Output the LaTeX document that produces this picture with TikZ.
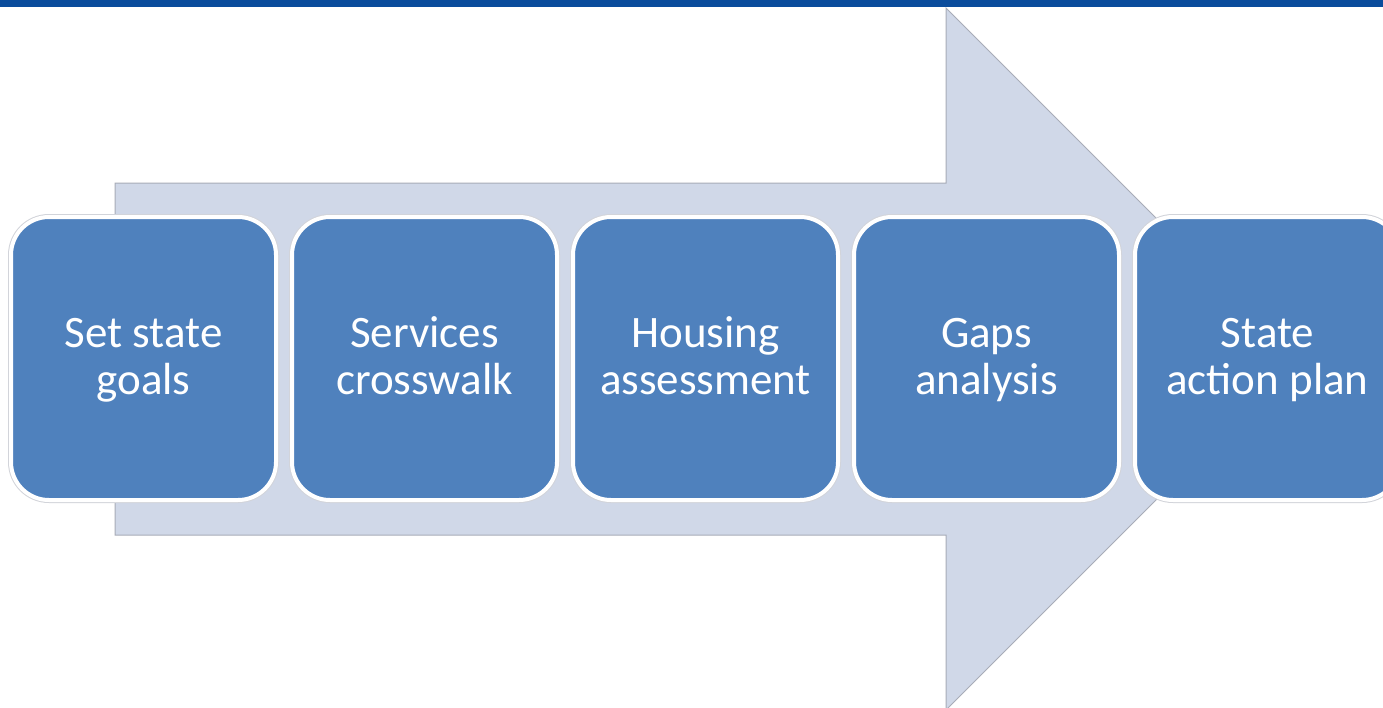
\documentclass[tikz,border=0pt]{standalone}
\usepackage{fontspec}
\setmainfont{Carlito}
\definecolor{boxblue}{RGB}{79,129,189}
\definecolor{arrowfill}{RGB}{208,216,232}
\definecolor{arrowline}{RGB}{168,172,184}
\definecolor{topbar}{RGB}{10,76,156}
\definecolor{boxhalo}{RGB}{210,212,218}
\newcommand{\mylinestrut}{\rule[-10pt]{0pt}{44pt}}
\begin{document}
\begin{tikzpicture}[x=1pt,y=-1pt,
  stepbox/.style={preaction={draw=boxhalo, line width=6pt},
    draw=white, line width=4pt, fill=boxblue, rounded corners=38pt,
    minimum width=265pt, minimum height=283pt, text=white,
    font=\fontsize{45}{47}\selectfont, align=center, inner sep=0pt},
  bigarrow/.style={fill=arrowfill, draw=arrowline, line width=1pt}]
\useasboundingbox (0,0) rectangle (1383,707);
\clip (0,0) rectangle (1383,707);
\fill[white] (0,0) rectangle (1383,707);
\fill[topbar] (0,0) rectangle (1383,6.5);
\draw[bigarrow] (115,183) -- (946,183) -- (946,8) -- (1297,359) -- (946,710) -- (946,535) -- (115,535) -- cycle;
\node[stepbox] (s1) at (143.5,358.5) {\mylinestrut Set state\\\mylinestrut goals};
\node[stepbox] (s2) at (424.5,358.5) {\mylinestrut Services\\\mylinestrut crosswalk};
\node[stepbox] (s3) at (705.5,358.5) {\mylinestrut Housing\\\mylinestrut assessment};
\node[stepbox] (s4) at (986.5,358.5) {\mylinestrut Gaps\\\mylinestrut analysis};
\node[stepbox] (s5) at (1267.5,358.5) {\mylinestrut State\\\mylinestrut action plan};
\end{tikzpicture}
\end{document}
